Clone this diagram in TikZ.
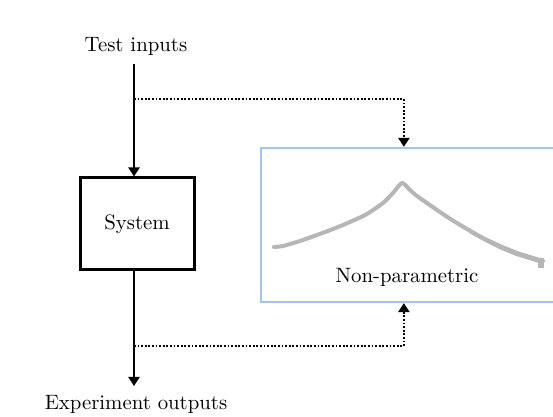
\documentclass[tikz,border=0pt]{standalone}
\usetikzlibrary{arrows.meta,calc}
\definecolor{boxblue}{RGB}{158,196,248}
\definecolor{curvegray}{RGB}{182,182,182}
\tikzset{
  flow/.style={line width=1.1pt,-{Triangle[length=4.5pt,width=5.5pt]}},
  probe/.style={line width=1.3pt,dash pattern=on 0.9pt off 0.9pt,-{Triangle[length=4.5pt,width=5.5pt]}},
  sysbox/.style={draw,line width=1.5pt,minimum width=57pt,minimum height=46pt,inner sep=0pt},
  modelbox/.style={draw=boxblue,line width=1.1pt,minimum width=154.5pt,minimum height=77pt,inner sep=0pt},
  lbl/.style={inner sep=1pt,font=\fontsize{10.4}{12.5}\selectfont}
}
\begin{document}
\begin{tikzpicture}[x=0.5pt,y=-0.5pt]
  \useasboundingbox (0,0) rectangle (553,417);
  \clip (0,0) rectangle (553,417);
  \fill[white] (0,0) rectangle (553,417);

  % signal chain
  \node[lbl] (in) at (136,46) {Test inputs};
  \node[sysbox,lbl,inner sep=0pt] (sys) at (137,224) {System};
  \node[lbl] (out) at (136,404) {Experiment outputs};
  \coordinate (inend) at (134,64);
  \coordinate (outend) at (134,386);

  % non-parametric model box (runs past the right edge)
  \node[modelbox] (np) at (415.5,225) {};
  \node[lbl] (nplabel) at (407,277) {Non-parametric};

  % frequency-response style curve
  \draw[curvegray,line width=2pt,line cap=round,line join=round]
    plot[smooth,tension=0.4] coordinates {
      (274,247) (283,246) (300,241) (317,235) (333,229) (350,222)
      (367,214) (383,203) (393,193) (402,183)
      (410,190) (417,196) (437,210) (452,220) (467,229) (483,238)
      (500,246) (517,253) (530,257) (543,261)};
  % noisy tail of the measured response
  \draw[curvegray,line width=1.2pt,line join=round]
    (470,232) -- (485,240.5) -- (500,248) -- (517,255) -- (530,259) -- (543,263);
  \fill[curvegray] (538,258) rectangle (544,268);

  % main connectors
  \draw[flow] (inend) -- (sys.north -| inend);
  \draw[flow] (sys.south -| inend) -- (outend);

  % taps feeding the model
  \coordinate (tapin) at (134,99);
  \coordinate (tapout) at (134,346);
  \draw[probe] (tapin) -| ($(np.north west)+(144,0)$);
  \draw[probe] (tapout) -| ($(np.south west)+(144,0)$);
\end{tikzpicture}
\end{document}
